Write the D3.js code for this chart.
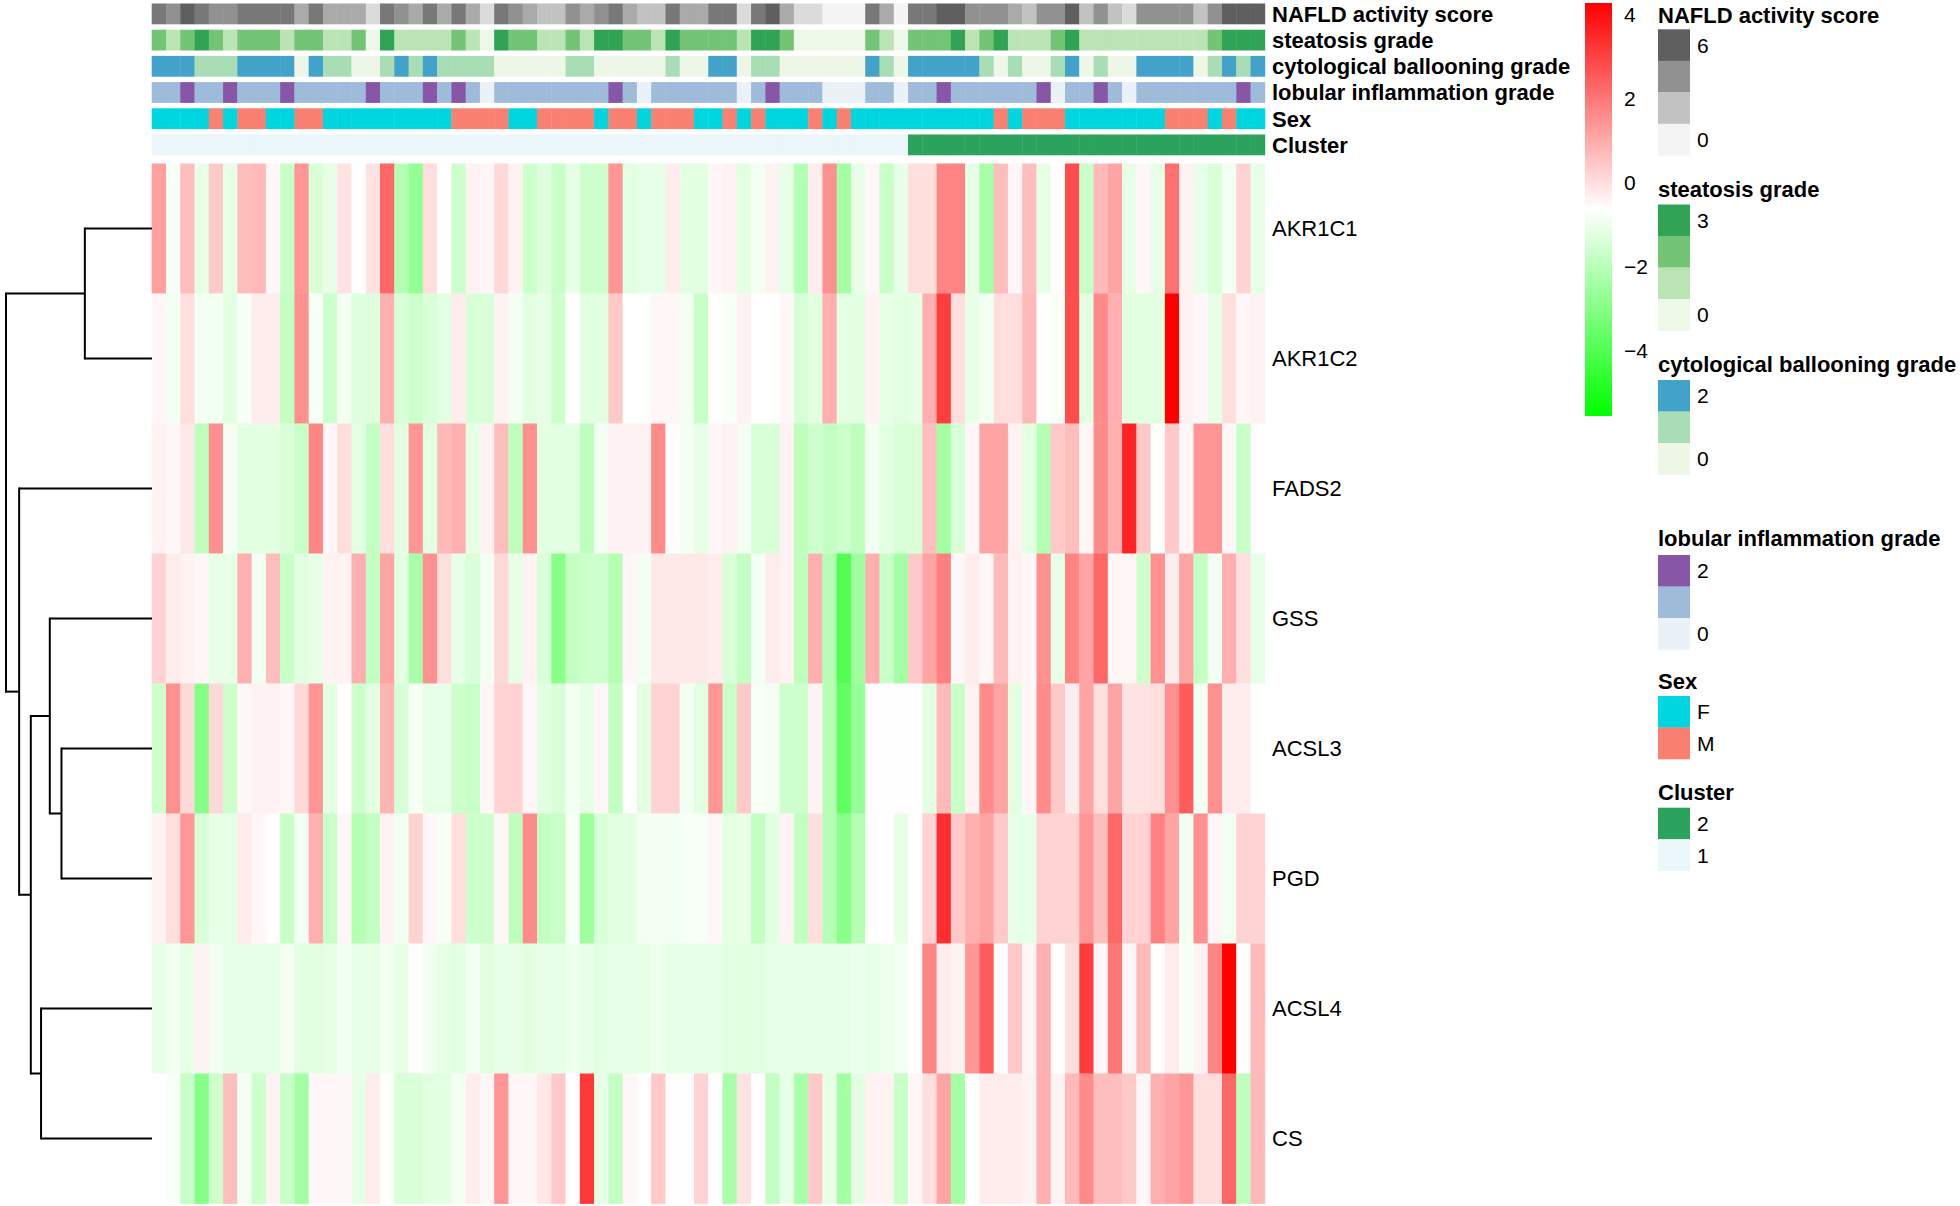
<!DOCTYPE html>
<html>
<head>
<meta charset="utf-8">
<script src="https://cdn.jsdelivr.net/npm/d3@7"></script>
<style>
  body { margin: 0; background: #fff; }
  svg { display: block; font-family: "Liberation Sans", Arial, sans-serif; }
</style>
</head>
<body>
<script>
// ---------------- DATA ----------------
const genes = ["AKR1C1","AKR1C2","FADS2","GSS","ACSL3","PGD","ACSL4","CS"];

const nafld = [5,4,6,5,4,4,5,5,5,5,3,5,3,3,3,1,5,4,3,5,
               3,5,3,1,5,4,3,2,2,4,3,4,5,3,2,2,5,3,3,5,
               5,1,5,6,3,1,1,0,0,0,5,3,0,5,5,6,6,4,4,4,
               3,2,4,4,6,2,4,2,1,4,4,4,4,2,4,6,6,6];
const steatosis = [2,1,2,3,2,1,2,2,2,1,2,2,1,1,2,0,3,1,1,1,
                   1,2,1,0,3,2,2,1,1,2,1,3,3,2,2,1,3,2,2,2,
                   2,1,3,3,2,0,0,0,0,0,2,1,0,2,2,2,3,1,2,3,
                   1,1,1,2,3,1,1,1,1,1,1,1,1,1,2,3,3,3];
const ballooning = [2,2,2,1,1,1,2,2,2,2,0,2,1,1,0,0,1,2,1,2,
                    1,1,1,1,0,0,0,0,0,1,1,0,0,0,0,0,1,0,0,2,
                    2,0,1,1,0,0,0,0,0,0,2,1,0,2,2,2,2,2,1,0,
                    1,0,0,1,2,0,1,0,0,2,2,2,2,0,1,2,1,2];
const lobular = [1,1,2,1,1,2,1,1,1,2,1,1,1,1,1,2,1,1,1,2,
                 1,2,1,0,1,1,1,1,1,1,1,1,2,1,0,1,1,1,1,1,
                 1,0,1,2,1,1,1,0,0,0,1,1,0,1,1,2,1,1,1,1,
                 1,1,2,0,1,1,2,1,0,1,1,1,1,1,1,1,2,1];
const sex = ["F","F","F","F","M","F","M","M","F","F","M","M","F","F","F","F","F","F","F","F",
             "F","M","M","M","M","F","F","M","M","M","M","F","M","M","F","M","M","M","F","F",
             "M","F","M","F","F","F","M","F","M","F","F","F","F","F","F","F","F","F","F","M",
             "F","M","M","M","F","F","F","F","F","F","F","M","M","M","F","M","F","F"];
const cluster = [1,1,1,1,1,1,1,1,1,1,1,1,1,1,1,1,1,1,1,1,
                 1,1,1,1,1,1,1,1,1,1,1,1,1,1,1,1,1,1,1,1,
                 1,1,1,1,1,1,1,1,1,1,1,1,1,2,2,2,2,2,2,2,
                 2,2,2,2,2,2,2,2,2,2,2,2,2,2,2,2,2,2];

const exprAKR1C1 = [1.2,-0.8,0.6,-1.1,0.4,-1.1,0.6,0.7,-0.5,-1.7,1.4,-1.4,-1.1,-0.1,-0.6,-0.1,2.3,-2.1,-2.7,0.0,
  -0.6,-1.6,-0.4,-0.5,0.1,-0.4,-1.6,-1.3,-1.7,-1.1,-1.6,-1.6,1.4,-1.2,-1.1,-1.1,-0.3,-1.2,-1.2,
  -0.5,-0.4,-1.2,-0.9,-0.4,-1.1,-2.1,-0.3,1.5,-2.4,-1.1,-0.5,-1.7,-1.1,0.0,0.0,1.7,1.7,-1.1,-2.3,
  0.6,-0.5,0.6,-1.1,-0.6,2.8,-1.7,0.7,1.1,-1.1,-0.5,-1.1,2.1,-0.4,-1.1,-1.4,-0.9,0.2,-1.1];
const exprAKR1C2 = [-0.5,-0.9,0.0,-0.9,-0.9,-1.2,-0.8,-0.3,-0.3,-1.8,1.5,-0.8,-1.6,-0.9,-1.3,-1.3,0.9,-1.4,-1.6,-1.4,
  -1.2,-0.3,-1.4,-1.4,-0.4,-0.9,-1.2,-1.1,-1.6,-0.6,-1.2,-1.2,0.4,-0.6,-0.7,-0.5,-0.5,-0.9,-1.7,
  -0.6,-0.8,-0.4,-0.6,-0.7,-0.5,-1.4,-1.2,0.9,-1.2,-1.2,-0.4,-1.1,-1.2,-1.1,0.9,3.1,0.0,-1.1,-0.9,
  0.0,0.0,0.7,-0.6,-0.8,2.8,-1.2,1.6,0.9,-1.2,-1.2,-1.2,4.3,-0.4,-0.5,-1.1,0.0,-0.5,-0.4];
const exprFADS2 = [-0.4,-0.5,-0.2,-1.9,1.5,-0.9,-1.2,-1.2,-1.2,-1.4,-1.7,1.7,-0.5,0.0,-1.2,-1.8,0.0,-1.2,1.4,-1.2,
  0.7,0.9,-1.1,-0.4,0.6,-1.9,1.5,-1.2,-1.2,-1.2,-1.9,-0.9,-0.4,-0.4,-0.4,1.6,-0.6,-0.9,-1.1,
  -0.5,-0.4,-0.9,-1.4,-1.4,-0.4,-1.9,-1.6,-1.8,-1.6,-1.9,-0.9,-1.2,-1.4,-1.4,0.6,-2.4,-1.4,-0.5,
  1.1,1.1,-0.4,-1.2,-2.1,0.4,0.6,-0.5,1.6,0.9,3.6,0.4,-0.7,0.4,-0.5,1.4,1.4,-0.5,-1.7,-0.6];
const exprGSS = [0.2,-0.3,-0.4,-0.5,-1.1,-1.1,0.9,-0.9,0.6,-1.7,-1.2,-1.1,-0.4,-0.4,0.9,-1.8,1.1,-1.2,-2.3,1.5,
  0.0,-1.1,-1.4,-0.9,0.1,-1.1,-0.4,-1.4,-2.9,-1.8,-1.6,-1.6,-2.1,-0.5,-0.9,-0.2,-0.2,-0.2,-0.2,
  -0.3,-1.4,-1.8,-0.9,-0.3,-0.4,-1.9,0.9,-2.1,-4.0,-2.5,0.9,-1.7,-2.4,0.4,1.1,1.8,-0.5,-0.3,-0.5,
  0.7,-0.4,-0.5,1.5,-1.1,1.7,1.1,2.3,-0.5,-0.5,-1.6,1.5,-0.3,1.1,-1.8,-0.9,0.9,0.0,-1.1];
const exprACSL3 = [-1.6,1.5,0.1,-3.0,0.1,-1.6,-0.5,-0.4,-0.4,-0.5,0.1,1.4,-1.2,-0.6,-1.6,-1.2,0.8,-1.4,-0.8,-1.1,
  -1.1,-1.6,-1.7,-0.5,0.2,0.2,-0.5,-1.2,-1.4,-0.9,-1.1,-0.5,-1.8,-0.6,-1.2,0.2,0.2,-0.9,-1.2,
  1.4,-1.7,0.4,-0.8,-0.9,-1.6,-1.6,-0.4,-2.1,-3.7,-2.7,-0.6,-0.6,-0.6,-0.6,-1.2,0.7,-1.7,-0.4,
  1.6,1.1,-1.2,-0.5,1.6,0.4,-0.3,1.1,0.0,1.1,-0.1,-0.1,0.0,1.5,2.5,-0.9,1.5,-0.3,-0.3,-0.7];
const exprPGD = [-0.4,0.0,1.4,-1.4,-1.1,-1.1,-0.3,-0.5,-0.6,-1.7,-0.9,0.9,-1.7,-0.5,-2.1,-1.8,-0.4,-0.9,0.2,-0.5,
  -0.8,0.0,-1.6,-1.6,-0.5,-1.9,1.6,-1.8,-1.7,-0.8,-2.5,-1.4,-1.2,-1.2,-0.9,-0.9,-0.9,-0.8,-0.8,
  -0.5,-1.2,-1.1,-1.8,-1.2,-0.4,-1.8,0.0,-2.1,-2.9,-2.1,-0.7,-0.6,-1.1,-0.6,0.2,3.4,0.4,0.9,
  1.1,0.4,-1.1,-1.1,0.2,0.2,0.2,1.4,0.6,2.3,0.2,0.2,1.8,1.1,-0.9,1.5,-0.5,-0.9,0.2,0.2];
const exprACSL4 = [-1.1,-0.9,-1.1,-0.4,-0.9,-1.1,-1.1,-1.1,-1.1,-0.9,-1.2,-1.2,-1.1,-0.9,-1.1,-1.1,-0.9,-1.1,-0.6,-0.9,
  -1.1,-1.2,-0.9,-1.2,-1.1,-1.1,-1.2,-1.1,-1.1,-1.0,-1.1,-1.2,-1.1,-1.1,-1.1,-1.0,-1.1,-1.1,-1.1,
  -1.1,-1.2,-1.2,-1.2,-1.1,-1.1,-1.1,-1.1,-1.1,-1.1,-1.0,-1.1,-1.0,-0.9,-0.6,1.7,-0.3,-0.4,1.4,
  2.5,-0.6,0.4,-0.5,0.9,-0.6,0.0,3.1,-0.5,2.0,-0.5,0.7,-0.7,-0.3,-0.8,-0.4,1.7,4.3,-0.6,0.7];
const exprCS = [-0.6,-0.8,-1.7,-3.0,-1.6,0.6,-0.9,-1.6,-0.4,-1.7,-2.4,-0.5,-0.5,-0.5,-1.1,-0.3,-0.7,-1.4,-1.4,-1.2,
  -1.2,-0.9,-0.3,-0.5,1.4,-0.5,-0.5,-0.2,0.4,-0.6,3.2,-1.1,-1.8,-0.5,-0.6,0.4,-0.6,-0.6,0.2,
  -0.6,-2.3,-0.1,-0.6,-1.8,-1.1,-2.3,0.4,-1.1,-2.4,-1.2,-0.4,-0.4,-1.7,-0.5,0.0,1.1,-2.4,-0.7,
  -0.3,-0.3,-0.3,-0.4,0.9,-0.4,0.7,1.6,0.6,0.6,0.4,-0.5,0.9,1.1,1.4,0.0,0.0,2.3,-1.9,0.7];

const colorbarTicks = [4, 2, 0, -2, -4];
const colorRange = [-5.56, 4.27];

// row dendrogram (merge heights)
const rowTree = {h: 10.0, children: [
  {h: 4.6, children: [{name: "AKR1C1"}, {name: "AKR1C2"}]},
  {h: 9.1, children: [
    {name: "FADS2"},
    {h: 8.3, children: [
      {h: 7.0, children: [{name: "GSS"}, {h: 6.2, children: [{name: "ACSL3"}, {name: "PGD"}]}]},
      {h: 7.6, children: [{name: "ACSL4"}, {name: "CS"}]}
    ]}
  ]}
]};

// ---------------- BUILD ----------------
const exprRows = [exprAKR1C1, exprAKR1C2, exprFADS2, exprGSS, exprACSL3, exprPGD, exprACSL4, exprCS];
const nCol = nafld.length;

const W = 1960, H = 1206;
const svg = d3.select("body").append("svg").attr("width", W).attr("height", H);

const x = d3.scaleBand().domain(d3.range(nCol)).range([151.7, 1264.8]);
const y = d3.scaleBand().domain(genes).range([163.5, 1203.5]);

const heat = d3.scaleLinear()
  .domain([colorRange[0], (colorRange[0] + colorRange[1]) / 2, colorRange[1]])
  .range(["#00ff00", "#ffffff", "#ff0000"]).clamp(true);

// annotations
const annNames = ["NAFLD activity score","steatosis grade","cytological ballooning grade","lobular inflammation grade","Sex","Cluster"];
const annData = [nafld, steatosis, ballooning, lobular, sex, cluster];
const annColors = [
  d3.scaleLinear().domain([0, 6]).range(["#f4f4f4", "#5f5f5f"]),
  d3.scaleOrdinal().domain([0,1,2,3]).range(["#edf8e9","#bae4b3","#74c476","#31a354"]),
  d3.scaleOrdinal().domain([0,1,2]).range(["#eef7e7","#a8ddb5","#43a2ca"]),
  d3.scaleOrdinal().domain([0,1,2]).range(["#eaf2f8","#9ebcda","#8856a7"]),
  d3.scaleOrdinal().domain(["F","M"]).range(["#00d6df","#fa8072"]),
  d3.scaleOrdinal().domain([1,2]).range(["#eaf6f9","#2ca25f"])
];
const ya = d3.scaleBand().domain(annNames).range([3.5, 155.3]).paddingInner(0.206);

annNames.forEach((nm, i) => {
  const g = svg.append("g");
  g.selectAll("rect").data(annData[i]).join("rect")
    .attr("x", (d, j) => x(j)).attr("y", ya(nm))
    .attr("width", x.bandwidth() + 0.4).attr("height", ya.bandwidth())
    .attr("fill", d => annColors[i](d));
  svg.append("text").attr("x", 1272).attr("y", ya(nm) + ya.bandwidth() / 2)
    .attr("dy", "0.36em").attr("font-size", 22).attr("font-weight", "bold").text(nm);
});

// heatmap
genes.forEach((gname, r) => {
  svg.append("g").selectAll("rect").data(exprRows[r]).join("rect")
    .attr("x", (d, j) => x(j)).attr("y", y(gname))
    .attr("width", x.bandwidth() + 0.4).attr("height", y.bandwidth() + 0.4)
    .attr("fill", d => heat(d));
  svg.append("text").attr("x", 1272).attr("y", y(gname) + y.bandwidth() / 2)
    .attr("dy", "0.36em").attr("font-size", 22).text(gname);
});

// dendrogram
const root = d3.hierarchy(rowTree);
const hx = d3.scaleLinear().domain([0, 10]).range([152, 6]);
root.eachAfter(n => {
  if (!n.children) { n.yy = y(n.data.name) + y.bandwidth() / 2; n.xx = hx(0); }
  else { n.yy = d3.mean(n.children, c => c.yy); n.xx = hx(n.data.h); }
});
const dg = svg.append("g").attr("stroke", "#000").attr("stroke-width", 2).attr("fill", "none");
root.each(n => {
  if (!n.children) return;
  const ys = n.children.map(c => c.yy);
  dg.append("line").attr("x1", n.xx).attr("x2", n.xx).attr("y1", d3.min(ys) - 1).attr("y2", d3.max(ys) + 1);
  n.children.forEach(c => {
    dg.append("line").attr("x1", n.xx).attr("x2", c.xx).attr("y1", c.yy).attr("y2", c.yy);
  });
});

// colour bar
const cbY = d3.scaleLinear().domain(colorRange).range([416, 3]);
const defs = svg.append("defs");
const grad = defs.append("linearGradient").attr("id", "cb").attr("x1", 0).attr("x2", 0).attr("y1", 1).attr("y2", 0);
d3.range(0, 1.0001, 0.05).forEach(t => {
  const v = colorRange[0] + t * (colorRange[1] - colorRange[0]);
  grad.append("stop").attr("offset", t).attr("stop-color", heat(v));
});
svg.append("rect").attr("x", 1585).attr("y", 3).attr("width", 27).attr("height", 413).attr("fill", "url(#cb)");
svg.append("g").selectAll("text").data(colorbarTicks).join("text")
  .attr("x", 1624).attr("y", d => cbY(d)).attr("dy", "0.36em").attr("font-size", 21)
  .text(d => d < 0 ? "\u2212" + Math.abs(d) : d);

// annotation legends
const legends = [
  {title: "NAFLD activity score", ty: 15, top: 29.3, items: [6,4,2,0], labels: ["6","","","0"], col: annColors[0]},
  {title: "steatosis grade", ty: 189.3, top: 204.5, items: [3,2,1,0], labels: ["3","","","0"], col: annColors[1]},
  {title: "cytological ballooning grade", ty: 364, top: 380, items: [2,1,0], labels: ["2","","0"], col: annColors[2]},
  {title: "lobular inflammation grade", ty: 538.3, top: 555, items: [2,1,0], labels: ["2","","0"], col: annColors[3]},
  {title: "Sex", ty: 680.7, top: 696, items: ["F","M"], labels: ["F","M"], col: annColors[4]},
  {title: "Cluster", ty: 792.3, top: 807.7, items: [2,1], labels: ["2","1"], col: annColors[5]}
];
const bh = 31.5;
legends.forEach(L => {
  const g = svg.append("g");
  g.append("text").attr("x", 1658).attr("y", L.ty).attr("dy", "0.36em")
    .attr("font-size", 22).attr("font-weight", "bold").text(L.title);
  g.selectAll("rect").data(L.items).join("rect")
    .attr("x", 1658).attr("y", (d, i) => L.top + i * bh)
    .attr("width", 32).attr("height", bh + 0.3).attr("fill", d => L.col(d));
  g.selectAll("text.lab").data(L.labels).join("text").attr("class", "lab")
    .attr("x", 1697).attr("y", (d, i) => L.top + i * bh + bh / 2).attr("dy", "0.36em")
    .attr("font-size", 21).text(d => d);
});
</script>
</body>
</html>
